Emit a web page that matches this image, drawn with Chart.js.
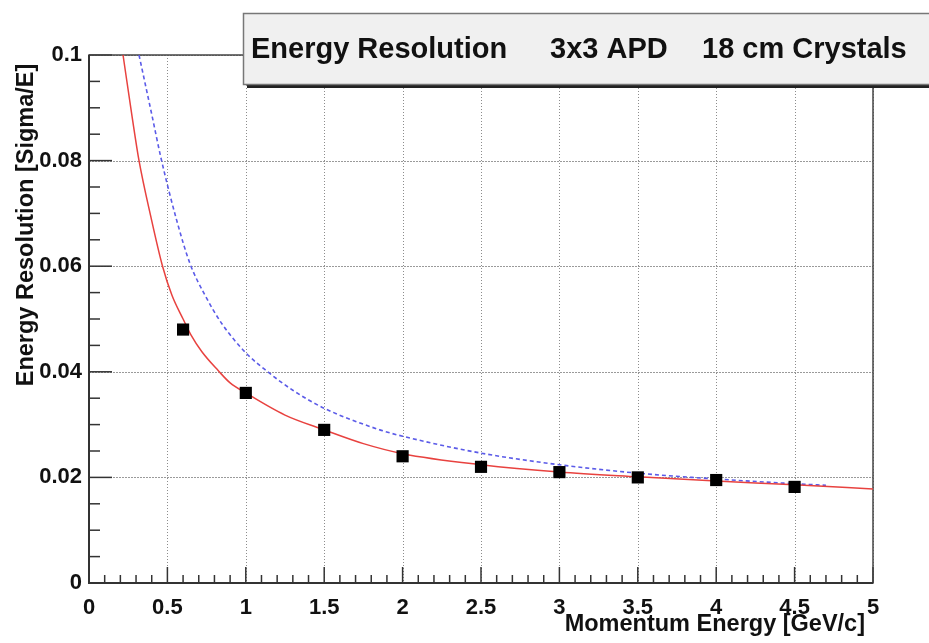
<!DOCTYPE html>
<html>
<head>
<meta charset="utf-8">
<script src="https://cdn.jsdelivr.net/npm/chart.js@4.4.1/dist/chart.umd.min.js"></script>
<style>
  html, body { margin: 0; padding: 0; background: #fff; }
  canvas { display: block; }
</style>
</head>
<body>
<canvas id="myChart" width="929" height="643"></canvas>
<script>
// measured points
const pointE   = [0.6, 1, 1.5, 2, 2.5, 3, 3.5, 4, 4.5];
const pointRes = [0.048, 0.036, 0.029, 0.024, 0.022, 0.021, 0.020, 0.0195, 0.0182];

// red fit curve
const fitE   = [0.217, 0.275, 0.319, 0.395, 0.469, 0.529, 0.6, 0.65, 0.72, 0.825, 0.9, 1.0, 1.25, 1.5, 1.75, 2.0, 2.5, 3.0, 3.5, 4.0, 4.5, 5.0];
const fitRes = [0.100, 0.0883, 0.080, 0.0693, 0.060, 0.0545, 0.050, 0.047, 0.0438, 0.0402, 0.0379, 0.036, 0.0318, 0.029, 0.0264, 0.0245, 0.0224, 0.021, 0.0201, 0.0193, 0.0186, 0.0178];

// blue dashed curve
const refE   = [0.319, 0.402, 0.459, 0.561, 0.644, 0.74, 0.85, 1.0, 1.14, 1.3, 1.5, 1.855, 2.0, 2.5, 3.0, 3.5, 4.0, 4.5, 4.7];
const refRes = [0.100, 0.0885, 0.0805, 0.0685, 0.0605, 0.0545, 0.049, 0.0436, 0.040, 0.0365, 0.0331, 0.029, 0.0278, 0.0246, 0.0224, 0.0208, 0.0197, 0.0188, 0.0185];

const xTickLabels = ['0', '0.5', '1', '1.5', '2', '2.5', '3', '3.5', '4', '4.5', '5'];
const yTickLabels = ['0', '0.02', '0.04', '0.06', '0.08', '0.1'];

const titleParts = ['Energy Resolution', '3x3 APD', '18 cm Crystals'];
const xTitle = 'Momentum Energy [GeV/c]';
const yTitle = 'Energy Resolution [Sigma/E]';

const FONT = "'Liberation Sans', Arial, Helvetica, sans-serif";

function toXY(xs, ys) {
  return xs.map((v, i) => ({ x: v, y: ys[i] }));
}

// ROOT style frame: dotted grid, inner ticks, box
const rootFrame = {
  id: 'rootFrame',
  beforeDatasetsDraw(chart) {
    const { ctx, chartArea: a, scales: { x, y } } = chart;
    ctx.save();
    ctx.lineWidth = 1;
    ctx.strokeStyle = '#8c8c8c';
    ctx.setLineDash([1, 2]);
    xTickLabels.forEach(t => {
      const px = Math.round(x.getPixelForValue(Number(t))) + 0.5;
      ctx.beginPath(); ctx.moveTo(px, a.top); ctx.lineTo(px, a.bottom); ctx.stroke();
    });
    ctx.strokeStyle = '#9a9a9a';
    ctx.setLineDash([2, 1]);
    yTickLabels.forEach(t => {
      const py = Math.round(y.getPixelForValue(Number(t))) + 0.5;
      ctx.beginPath(); ctx.moveTo(a.left, py); ctx.lineTo(a.right, py); ctx.stroke();
    });
    ctx.setLineDash([]);

    // ticks
    ctx.strokeStyle = '#333';
    ctx.lineWidth = 1.5;
    for (let i = 0; i <= 50; i++) {
      const px = x.getPixelForValue(i / 10);
      const len = i % 5 === 0 ? 16 : 8;
      ctx.beginPath(); ctx.moveTo(px, a.bottom); ctx.lineTo(px, a.bottom - len); ctx.stroke();
    }
    for (let i = 0; i <= 20; i++) {
      const py = y.getPixelForValue(i * 0.005);
      const len = i % 4 === 0 ? 23 : 11;
      ctx.beginPath(); ctx.moveTo(a.left, py); ctx.lineTo(a.left + len, py); ctx.stroke();
    }

    // frame
    ctx.lineWidth = 1.5;
    ctx.strokeStyle = '#444';
    ctx.strokeRect(a.left, a.top, a.right - a.left, a.bottom - a.top);
    ctx.lineWidth = 2;
    ctx.strokeStyle = '#333';
    ctx.beginPath();
    ctx.moveTo(a.left, a.top); ctx.lineTo(a.left, a.bottom); ctx.lineTo(a.right, a.bottom);
    ctx.stroke();
    ctx.restore();
  },
  afterDraw(chart) {
    const { ctx } = chart;
    ctx.save();
    // title box with shadow
    ctx.fillStyle = '#222';
    ctx.fillRect(247, 84, 700, 4);
    ctx.fillStyle = '#f0f0f0';
    ctx.fillRect(243, 13, 700, 72);
    ctx.strokeStyle = '#777';
    ctx.lineWidth = 1.5;
    ctx.strokeRect(243.5, 13.5, 700, 71);
    ctx.fillStyle = '#111';
    ctx.font = 'bold 29px ' + FONT;
    ctx.textBaseline = 'middle';
    ctx.textAlign = 'left';
    ctx.fillText(titleParts[0], 251, 50);
    ctx.fillText(titleParts[1], 550, 50);
    ctx.fillText(titleParts[2], 702, 50);

    // axis titles
    ctx.font = 'bold 23.5px ' + FONT;
    ctx.textBaseline = 'alphabetic';
    ctx.textAlign = 'right';
    ctx.fillText(xTitle, 865, 631);
    ctx.translate(33, 225);
    ctx.rotate(-Math.PI / 2);
    ctx.textAlign = 'center';
    ctx.fillText(yTitle, 0, 0);
    ctx.restore();
  }
};

const data = {
  datasets: [{
    label: 'data',
    data: toXY(pointE, pointRes),
    pointStyle: 'rect',
    pointRadius: 8.6,
    pointBackgroundColor: '#000',
    pointBorderColor: '#000',
    pointBorderWidth: 0,
    showLine: false,
    order: 0
  }, {
    label: 'fit',
    data: toXY(fitE, fitRes),
    showLine: true,
    borderColor: '#e8423f',
    borderWidth: 1.5,
    pointRadius: 0,
    cubicInterpolationMode: 'monotone',
    order: 1
  }, {
    label: 'reference',
    data: toXY(refE, refRes),
    showLine: true,
    borderColor: '#5b5be8',
    borderWidth: 1.6,
    borderDash: [4, 3],
    pointRadius: 0,
    cubicInterpolationMode: 'monotone',
    order: 2
  }]
};

const config = {
  type: 'scatter',
  data: data,
  plugins: [rootFrame],
  options: {
    responsive: false,
    animation: false,
    devicePixelRatio: 1,
    layout: { padding: { top: 55, right: 56, left: 0, bottom: 0 } },
    plugins: {
      legend: { display: false },
      tooltip: { enabled: false }
    },
    scales: {
      x: {
        type: 'linear',
        min: 0,
        max: 5,
        grid: { display: false, drawTicks: false, tickLength: 0 },
        border: { display: false },
        afterFit: scale => { scale.height = 60; },
        afterBuildTicks: scale => { scale.ticks = xTickLabels.map(t => ({ value: Number(t) })); },
        ticks: {
          color: '#111',
          font: { family: FONT, size: 22, weight: 'bold' },
          padding: 12,
          maxRotation: 0,
          callback: (v, i) => xTickLabels[i]
        }
      },
      y: {
        type: 'linear',
        min: 0,
        max: 0.1,
        grid: { display: false, drawTicks: false, tickLength: 0 },
        border: { display: false },
        afterFit: scale => { scale.width = 89; },
        afterBuildTicks: scale => { scale.ticks = yTickLabels.map(t => ({ value: Number(t) })); },
        ticks: {
          color: '#111',
          font: { family: FONT, size: 22, weight: 'bold' },
          padding: 7,
          callback: (v, i) => yTickLabels[i]
        }
      }
    }
  }
};

let myChart = document.getElementById('myChart').getContext('2d');
let scatterChart = new Chart(myChart, config);
</script>
</body>
</html>
